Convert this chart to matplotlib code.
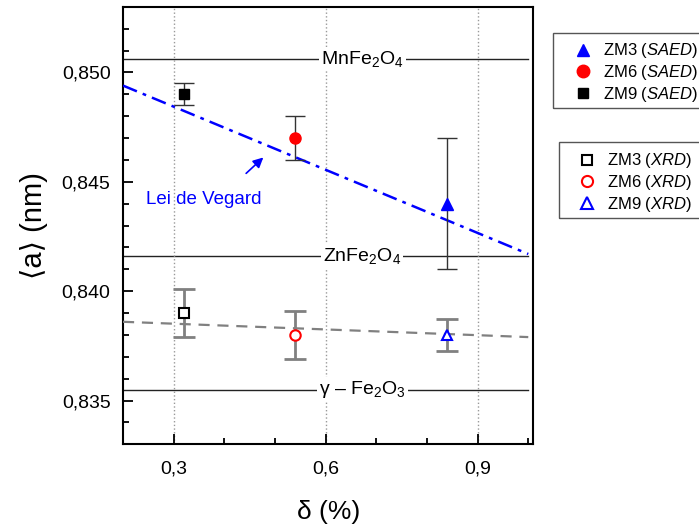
import numpy as np
import matplotlib
matplotlib.use("Agg")
import matplotlib.pyplot as plt
from matplotlib.ticker import MultipleLocator, FuncFormatter
from matplotlib.lines import Line2D
from matplotlib.patches import Rectangle

plt.rcParams['font.family'] = ['Liberation Sans', 'DejaVu Sans']
plt.rcParams['mathtext.fontset'] = 'custom'
plt.rcParams['mathtext.rm'] = 'Liberation Sans'
plt.rcParams['mathtext.it'] = 'Liberation Sans:italic'

# data
delta = [0.32, 0.54, 0.84]
saed = [0.849, 0.847, 0.844]
saed_err = [0.0005, 0.001, 0.003]
saed_colors = ['black', 'red', 'blue']
saed_markers = ['s', 'o', '^']
xrd = [0.839, 0.838, 0.838]
xrd_err = [0.0011, 0.0011, 0.00075]
xrd_colors = ['black', 'red', 'blue']
xrd_markers = ['s', 'o', '^']

vegard_x = [0.2, 1.0]
vegard_y = [0.8494, 0.8417]
xrd_fit_x = [0.2, 1.0]
xrd_fit_y = [0.8386, 0.8379]

ref_names = ['MnFe$_2$O$_4$', 'ZnFe$_2$O$_4$', 'γ – Fe$_2$O$_3$']
ref_values = [0.8506, 0.8416, 0.8355]

W, H = 699, 527
fig = plt.figure(figsize=(W / 100, H / 100), dpi=100)
ax = fig.add_axes([0.176, 0.157, 0.587, 0.830])

# reference lattice parameters
for name, val in zip(ref_names, ref_values):
    ax.plot([0.2, 1.0], [val, val], color='#222222', lw=1.0, zorder=1)
    ax.text(0.672, val, name, ha='center', va='center', fontsize=14,
            bbox=dict(facecolor='white', edgecolor='none', pad=1.5), zorder=2)

# Vegard law and XRD trend
ax.plot(vegard_x, vegard_y, color='blue', lw=1.8, dashes=[6, 2.5, 1.5, 2.5], zorder=3)
ax.plot(xrd_fit_x, xrd_fit_y, color='#808080', lw=1.6, dashes=[5, 3.5], zorder=3)

# SAED points
for x, y, e, c, m in zip(delta, saed, saed_err, saed_colors, saed_markers):
    ax.errorbar(x, y, yerr=e, fmt='none', ecolor='#333333', elinewidth=1.0,
                capsize=7, capthick=1.0, zorder=4)
    ax.plot(x, y, marker=m, color=c, ms=8 if m != 's' else 7, ls='none', zorder=5)

# XRD points
for x, y, e, c, m in zip(delta, xrd, xrd_err, xrd_colors, xrd_markers):
    ax.errorbar(x, y, yerr=e, fmt='none', ecolor='#808080', elinewidth=2.0,
                capsize=8, capthick=2.0, zorder=4)
    ax.plot(x, y, marker=m, mfc='white', mec=c, mew=1.5, ms=7.5 if m != 's' else 6.5,
            ls='none', zorder=5)

ax.annotate('', xy=(0.481, 0.8462), xytext=(0.439, 0.8453),
            arrowprops=dict(arrowstyle='-|>', color='blue', lw=1.2, mutation_scale=15))
ax.text(0.245, 0.8442, 'Lei de Vegard', color='blue', fontsize=13.5, va='center')

ax.set_xlim(0.2, 1.01)
ax.set_ylim(0.833, 0.853)
ax.xaxis.set_major_locator(MultipleLocator(0.3))
ax.xaxis.set_minor_locator(MultipleLocator(0.1))
ax.yaxis.set_major_locator(MultipleLocator(0.005))
ax.yaxis.set_minor_locator(MultipleLocator(0.001))
ax.xaxis.set_major_formatter(FuncFormatter(lambda v, p: f"{v:.1f}".replace('.', ',')))
ax.yaxis.set_major_formatter(FuncFormatter(lambda v, p: f"{v:.3f}".replace('.', ',')))
ax.tick_params(which='both', direction='in', labelsize=14, width=1.3)
ax.tick_params(which='major', length=7, pad=9)
ax.tick_params(axis='x', which='major', pad=12)
ax.tick_params(which='minor', length=4)
ax.set_xticks([0.3, 0.6, 0.9])
ax.grid(axis='x', which='major', color='#999999', ls=':', lw=1.0)
for s in ax.spines.values():
    s.set_linewidth(1.5)

ax.set_xlabel('δ (%)', fontsize=19, labelpad=16)
ax.set_ylabel('⟨a⟩ (nm)', fontsize=21, labelpad=10)

# legends (frames drawn separately, they run off the right edge as in the original)
leg_kw = dict(loc='upper left', fontsize=12, frameon=False, borderpad=0,
              borderaxespad=0, handlelength=1.4, handletextpad=0.5, labelspacing=0.15)
h1 = [Line2D([], [], marker='^', color='blue', ls='none', ms=9),
      Line2D([], [], marker='o', color='red', ls='none', ms=9),
      Line2D([], [], marker='s', color='black', ls='none', ms=7)]
l1 = ['ZM3 ($\\it{SAED}$)', 'ZM6 ($\\it{SAED}$)', 'ZM9 ($\\it{SAED}$)']
fig.legend(h1, l1, bbox_to_anchor=(571 / W, 1 - 41.5 / H), **leg_kw)
fig.add_artist(Rectangle((553 / W, 1 - 108 / H), 0.3, 75.5 / H, transform=fig.transFigure,
                         fill=False, edgecolor='#555555', lw=1.0))

h2 = [Line2D([], [], marker='s', mfc='white', mec='black', mew=1.5, ls='none', ms=7),
      Line2D([], [], marker='o', mfc='white', mec='red', mew=1.5, ls='none', ms=8),
      Line2D([], [], marker='^', mfc='white', mec='blue', mew=1.5, ls='none', ms=8)]
l2 = ['ZM3 ($\\it{XRD}$)', 'ZM6 ($\\it{XRD}$)', 'ZM9 ($\\it{XRD}$)']
fig.legend(h2, l2, bbox_to_anchor=(575 / W, 1 - 151.5 / H), **leg_kw)
fig.add_artist(Rectangle((559 / W, 1 - 218 / H), 0.3, 76 / H, transform=fig.transFigure,
                         fill=False, edgecolor='#555555', lw=1.0))

fig.savefig('out.png', dpi=100)
